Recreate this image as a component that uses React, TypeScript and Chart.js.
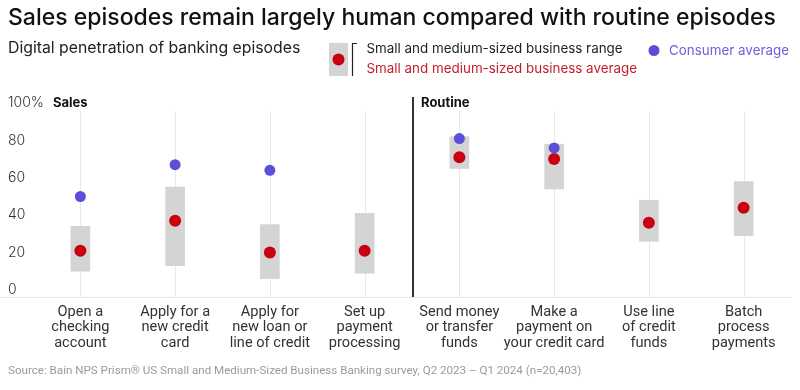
import React, { useEffect, useRef } from "react";
import { Chart, registerables } from "chart.js";

Chart.register(...registerables);

const categories: string[][] = [
  ["Open a", "checking", "account"],
  ["Apply for a", "new credit", "card"],
  ["Apply for", "new loan or", "line of credit"],
  ["Set up", "payment", "processing"],
  ["Send money", "or transfer", "funds"],
  ["Make a", "payment on", "your credit card"],
  ["Use line", "of credit", "funds"],
  ["Batch", "process", "payments"],
];
const rangeLow = [10, 13, 6, 9, 65, 54, 26, 29];
const rangeHigh = [34, 55, 35, 41, 82, 78, 48, 58];
const smbAverage = [21, 37, 20, 21, 71, 70, 36, 44];
const consumerAverage: (number | null)[] = [50, 67, 64, null, 81, 76, null, null];
const yTicks = [0, 20, 40, 60, 80, 100];
const groupLabels = ["Sales", "Routine"];
const groupStarts = [0, 4];

const TITLE = "Sales episodes remain largely human compared with routine episodes";
const SUBTITLE = "Digital penetration of banking episodes";
const LEGEND_RANGE = "Small and medium-sized business range";
const LEGEND_AVG = "Small and medium-sized business average";
const LEGEND_CONSUMER = "Consumer average";
const SOURCE =
  "Source: Bain NPS Prism\u00AE US Small and Medium-Sized Business Banking survey, Q2 2023 \u2013 Q1 2024 (n=20,403)";

const RED = "#c8000f";
const BLUE = "#5b4fd9";
const GRAY = "#d4d4d4";

const overlay = {
  id: "overlay",
  beforeDatasetsDraw(chart: any) {
    const { ctx, chartArea, scales } = chart;
    const x = scales.x;
    ctx.save();
    ctx.strokeStyle = "#e8e8e8";
    ctx.lineWidth = 1;
    categories.forEach((_, i) => {
      const px = Math.round(x.getPixelForValue(i)) + 0.5;
      ctx.beginPath();
      ctx.moveTo(px, chartArea.top + 8);
      ctx.lineTo(px, chartArea.bottom);
      ctx.stroke();
    });
    // baseline
    ctx.beginPath();
    ctx.moveTo(0, Math.round(chartArea.bottom) + 0.5);
    ctx.lineTo(chartArea.right, Math.round(chartArea.bottom) + 0.5);
    ctx.stroke();
    // divider
    const dx = (x.getPixelForValue(3) + x.getPixelForValue(4)) / 2 + 1;
    ctx.strokeStyle = "#333";
    ctx.lineWidth = 2;
    ctx.beginPath();
    ctx.moveTo(dx, chartArea.top - 6);
    ctx.lineTo(dx, chartArea.bottom);
    ctx.stroke();
    ctx.restore();
  },
  afterDraw(chart: any) {
    const { ctx, chartArea, scales } = chart;
    const x = scales.x;
    ctx.save();
    ctx.textBaseline = "middle";
    ctx.textAlign = "left";
    // title
    ctx.fillStyle = "#111";
    ctx.font = "500 23px Inter";
    ctx.fillText(TITLE, 8, 18);
    ctx.fillStyle = "#222";
    ctx.font = "400 15.8px Inter";
    ctx.fillText(SUBTITLE, 8, 48);
    // legend range glyph
    ctx.fillStyle = GRAY;
    ctx.fillRect(329, 43, 19, 33);
    ctx.fillStyle = RED;
    ctx.beginPath();
    ctx.arc(338.5, 59.5, 6, 0, Math.PI * 2);
    ctx.fill();
    ctx.strokeStyle = "#222";
    ctx.lineWidth = 1.2;
    ctx.beginPath();
    ctx.moveTo(357, 43.5);
    ctx.lineTo(352.5, 43.5);
    ctx.lineTo(352.5, 76);
    ctx.stroke();
    ctx.font = "400 13.4px Inter";
    ctx.fillStyle = "#222";
    ctx.fillText(LEGEND_RANGE, 366.5, 49);
    ctx.fillStyle = "#c41e2a";
    ctx.fillText(LEGEND_AVG, 366.5, 69);
    ctx.fillStyle = BLUE;
    ctx.beginPath();
    ctx.arc(654, 50.5, 5.5, 0, Math.PI * 2);
    ctx.fill();
    ctx.fillStyle = "#6e60d8";
    ctx.font = "400 13.4px Inter";
    ctx.fillText(LEGEND_CONSUMER, 669, 51);
    // group labels
    ctx.fillStyle = "#111";
    ctx.font = "700 13px Inter";
    const half = (x.getPixelForValue(1) - x.getPixelForValue(0)) / 2;
    groupLabels.forEach((g, i) => {
      const gx = i === 0 ? 53 : x.getPixelForValue(groupStarts[i]) - half + 9;
      ctx.fillText(g, gx, chartArea.top);
    });
    // source
    ctx.fillStyle = "#9a9a9a";
    ctx.font = "400 11.6px Roboto";
    ctx.fillText(SOURCE, 8, 371);
    ctx.restore();
  },
};

export default function App() {
  const ref = useRef<HTMLCanvasElement | null>(null);
  useEffect(() => {
    if (!ref.current) return;
    const chart = new Chart(ref.current, {
      type: "bar",
      data: {
        labels: categories,
        datasets: [
          {
            type: "line",
            label: LEGEND_CONSUMER,
            data: consumerAverage,
            showLine: false,
            pointRadius: 5.5,
            pointBackgroundColor: BLUE,
            pointBorderWidth: 0,
            borderColor: BLUE,
            order: 1,
          } as any,
          {
            type: "line",
            label: LEGEND_AVG,
            data: smbAverage,
            showLine: false,
            pointRadius: 6,
            pointBackgroundColor: RED,
            pointBorderWidth: 0,
            borderColor: RED,
            order: 2,
          } as any,
          {
            type: "bar",
            label: LEGEND_RANGE,
            data: rangeLow.map((lo, i) => [lo, rangeHigh[i]]),
            backgroundColor: GRAY,
            barThickness: 19,
            borderWidth: 0,
            order: 3,
          } as any,
        ],
      },
      options: {
        responsive: false,
        animation: false,
        layout: { padding: { left: 8, right: 9, top: 103, bottom: 38 } },
        plugins: { legend: { display: false }, tooltip: { enabled: false }, title: { display: false } },
        scales: {
          x: {
            offset: true,
            grid: { display: false, drawTicks: false },
            border: { display: false },
            ticks: {
              font: { family: "Roboto", size: 14.6, lineHeight: 1.08 },
              color: "#333",
              padding: 7,
              maxRotation: 0,
              autoSkip: false,
            },
            afterFit: (s: any) => {
              s.height = 55;
            },
          },
          y: {
            min: -3.75,
            max: 100,
            grid: { display: false, drawTicks: false },
            border: { display: false },
            afterBuildTicks: (s: any) => {
              s.ticks = yTicks.map((v) => ({ value: v }));
            },
            afterFit: (s: any) => {
              s.width = 25;
            },
            ticks: {
              mirror: true,
              padding: -25,
              color: "#333",
              font: { family: "Inter", size: 14, weight: 300 },
              callback: (v: any) => (v === 100 ? "100%" : String(v)),
            },
          },
        },
      },
      plugins: [overlay],
    });
    return () => chart.destroy();
  }, []);
  return (
    <div style={{ position: "absolute", left: 0, top: 0, width: 800, height: 390, background: "#fff" }}>
      <canvas ref={ref} width={800} height={390} style={{ display: "block" }} />
    </div>
  );
}
